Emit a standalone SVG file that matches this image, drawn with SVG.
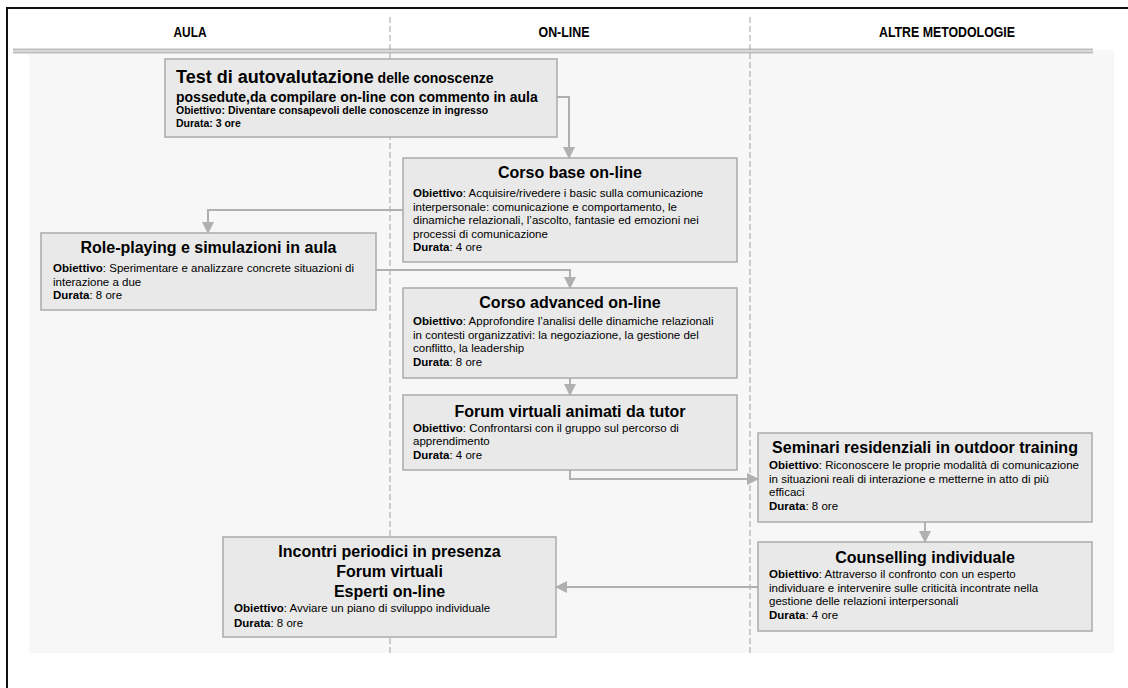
<svg xmlns="http://www.w3.org/2000/svg" width="1128" height="688" viewBox="0 0 1128 688">
<defs>
<style>
text{font-family:"Liberation Sans",Arial,sans-serif;fill:#000}
.hd{font-size:15px;font-weight:bold;text-anchor:middle}
.box{fill:#e9e9e9;stroke:#ababab;stroke-width:1.5}
.ttl{font-size:16px;font-weight:bold;text-anchor:middle}
.bd{font-size:11.5px}
.b{font-weight:bold}
.cn{fill:none;stroke:#b0b0b0;stroke-width:2}
.dash{stroke:#a0a0a0;stroke-width:1;stroke-dasharray:6 3}
</style>
<marker id="ah" markerWidth="12" markerHeight="12" refX="11" refY="6" orient="auto" markerUnits="userSpaceOnUse">
<path d="M0,0 L12,6 L0,12 Z" fill="#b0b0b0"/>
</marker>
</defs>
<rect width="1128" height="688" fill="#fff"/>
<path d="M7,688 V8 H1128" fill="none" stroke="#111" stroke-width="2"/>
<rect x="29" y="50" width="1085" height="603" fill="#f7f7f7"/>
<rect x="13" y="48.5" width="1080" height="5" fill="#bdbdbd"/>
<line x1="13" y1="51" x2="1093" y2="51" stroke="#f2f2f2" stroke-width="1"/>
<line class="dash" x1="390" y1="17" x2="390" y2="653"/>
<line class="dash" x1="750" y1="17" x2="750" y2="653"/>
<g id="headers">
<text class="hd" x="190" y="37" textLength="33" lengthAdjust="spacingAndGlyphs">AULA</text>
<text class="hd" x="564" y="37" textLength="51" lengthAdjust="spacingAndGlyphs">ON-LINE</text>
<text class="hd" x="947" y="37" textLength="136" lengthAdjust="spacingAndGlyphs">ALTRE METODOLOGIE</text>
</g>
<g id="connectors">
<path class="cn" d="M557,97 H569 V158" marker-end="url(#ah)"/>
<path class="cn" d="M403,210 H208 V233" marker-end="url(#ah)"/>
<path class="cn" d="M376,270 H570 V288" marker-end="url(#ah)"/>
<path class="cn" d="M570,378 V395" marker-end="url(#ah)"/>
<path class="cn" d="M570,470 V479 H758" marker-end="url(#ah)"/>
<path class="cn" d="M925,522 V542" marker-end="url(#ah)"/>
<path class="cn" d="M758,587 H556" marker-end="url(#ah)"/>
</g>
<g id="n-test">
<rect class="box" x="165" y="59" width="392" height="78"/>
<text x="176" y="83" font-weight="bold"><tspan font-size="18px">Test di autovalutazione</tspan><tspan font-size="14px"> delle conoscenze</tspan></text>
<text x="176" y="102" font-weight="bold" font-size="14px">possedute,da compilare on-line con commento in aula</text>
<text x="176" y="114" font-weight="bold" font-size="10.5px">Obiettivo: Diventare consapevoli delle conoscenze in ingresso</text>
<text x="176" y="127" font-weight="bold" font-size="10.5px">Durata: 3 ore</text>
</g>
<g id="n-corso-base">
<rect class="box" x="403" y="158" width="334" height="104"/>
<text class="ttl" x="570" y="178">Corso base on-line</text>
<text class="bd" x="413" y="197"><tspan class="b">Obiettivo</tspan>: Acquisire/rivedere i basic sulla comunicazione</text>
<text class="bd" x="413" y="210.5">interpersonale: comunicazione e comportamento, le</text>
<text class="bd" x="413" y="224">dinamiche relazionali, l’ascolto, fantasie ed emozioni nei</text>
<text class="bd" x="413" y="237.5">processi di comunicazione</text>
<text class="bd" x="413" y="251"><tspan class="b">Durata</tspan>: 4 ore</text>
</g>
<g id="n-role">
<rect class="box" x="41" y="233" width="335" height="77"/>
<text class="ttl" x="208.5" y="253">Role-playing e simulazioni in aula</text>
<text class="bd" x="53" y="272"><tspan class="b">Obiettivo</tspan>: Sperimentare e analizzare concrete situazioni di</text>
<text class="bd" x="53" y="285.5">interazione a due</text>
<text class="bd" x="53" y="299"><tspan class="b">Durata</tspan>: 8 ore</text>
</g>
<g id="n-advanced">
<rect class="box" x="403" y="288" width="334" height="90"/>
<text class="ttl" x="570" y="308">Corso advanced on-line</text>
<text class="bd" x="413" y="325"><tspan class="b">Obiettivo</tspan>: Approfondire l’analisi delle dinamiche relazionali</text>
<text class="bd" x="413" y="338.5">in contesti organizzativi: la negoziazione, la gestione del</text>
<text class="bd" x="413" y="352">conflitto, la leadership</text>
<text class="bd" x="413" y="365.5"><tspan class="b">Durata</tspan>: 8 ore</text>
</g>
<g id="n-forum">
<rect class="box" x="403" y="395" width="334" height="75"/>
<text class="ttl" x="570" y="417">Forum virtuali animati da tutor</text>
<text class="bd" x="413" y="431.5"><tspan class="b">Obiettivo</tspan>: Confrontarsi con il gruppo sul percorso di</text>
<text class="bd" x="413" y="445">apprendimento</text>
<text class="bd" x="413" y="458.5"><tspan class="b">Durata</tspan>: 4 ore</text>
</g>
<g id="n-seminari">
<rect class="box" x="758" y="433" width="334" height="89"/>
<text class="ttl" x="925" y="453">Seminari residenziali in outdoor training</text>
<text class="bd" x="769" y="469"><tspan class="b">Obiettivo</tspan>: Riconoscere le proprie modalità di comunicazione</text>
<text class="bd" x="769" y="482.5">in situazioni reali di interazione e metterne in atto di più</text>
<text class="bd" x="769" y="496">efficaci</text>
<text class="bd" x="769" y="509.5"><tspan class="b">Durata</tspan>: 8 ore</text>
</g>
<g id="n-counselling">
<rect class="box" x="758" y="542" width="334" height="89"/>
<text class="ttl" x="925" y="563">Counselling individuale</text>
<text class="bd" x="769" y="578"><tspan class="b">Obiettivo</tspan>: Attraverso il confronto con un esperto</text>
<text class="bd" x="769" y="591.5">individuare e intervenire sulle criticità incontrate nella</text>
<text class="bd" x="769" y="605">gestione delle relazioni interpersonali</text>
<text class="bd" x="769" y="618.5"><tspan class="b">Durata</tspan>: 4 ore</text>
</g>
<g id="n-incontri">
<rect class="box" x="223" y="537" width="333" height="100"/>
<text class="ttl" x="389.5" y="557">Incontri periodici in presenza</text>
<text class="ttl" x="389.5" y="577">Forum virtuali</text>
<text class="ttl" x="389.5" y="597">Esperti on-line</text>
<text class="bd" x="234" y="612"><tspan class="b">Obiettivo</tspan>: Avviare un piano di sviluppo individuale</text>
<text class="bd" x="234" y="627"><tspan class="b">Durata</tspan>: 8 ore</text>
</g>
</svg>
